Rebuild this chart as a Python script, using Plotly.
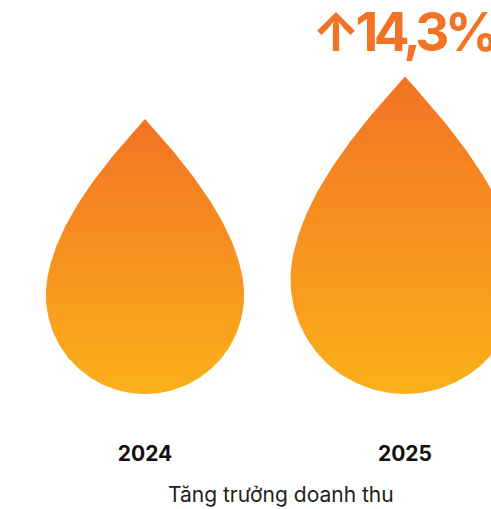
import numpy as np
import plotly.graph_objects as go

# ---- data ----
years = ["2024", "2025"]
revenue = [100, 115.5]          # relative size of each drop
growth_label = "↑14,3%"
axis_title = "Tăng trưởng doanh thu"

# ---- style / scale constants ----
W, H = 491, 509
PLOT_BOTTOM = 439               # px of plot-area bottom
BASE_PX = 394                   # px where drops rest
PX_PER_Y = 2.75
PX_PER_X = 260.0
X0_PX = 145.0
TOP_C = "#F37324"
BOT_C = "#FBB01A"

D_TIP = 1.774                   # tip distance from circle centre (in radii)
PHI = np.radians(10)
BETA = np.radians(42)


def drop_unit():
    """Drop outline in units of circle radius, circle centre at (0,0)."""
    ang = np.linspace(np.pi - PHI, 2 * np.pi + PHI, 120)
    cu, cv = np.cos(ang), np.sin(ang)
    p0 = np.array([np.cos(PHI), np.sin(PHI)])
    p1 = p0 + 0.6 * np.array([-np.sin(PHI), np.cos(PHI)])
    p3 = np.array([0.0, D_TIP])
    p2 = p3 + 0.6 * np.array([np.sin(BETA), -np.cos(BETA)])
    t = np.linspace(0, 1, 60)[:, None]
    b = (1 - t) ** 3 * p0 + 3 * (1 - t) ** 2 * t * p1 + 3 * (1 - t) * t ** 2 * p2 + t ** 3 * p3
    ru, rv = b[:, 0], b[:, 1]
    lu, lv = -ru[::-1], rv[::-1]
    u = np.concatenate([cu, ru, lu])
    v = np.concatenate([cv, rv, lv])
    return u, v


u, v = drop_unit()
fig = go.Figure()
for i, (yr, val) in enumerate(zip(years, revenue)):
    r_y = val / (1 + D_TIP)                 # radius in y units
    r_x = r_y * PX_PER_Y / PX_PER_X         # radius in x units
    xs = i + u * r_x
    ys = (v + 1) * r_y
    fig.add_trace(go.Scatter(
        x=xs, y=ys, mode="lines", fill="toself",
        line=dict(width=0, color=TOP_C),
        fillgradient=dict(type="vertical", colorscale=[[0, BOT_C], [1, TOP_C]]),
        name=yr, hoverinfo="skip", showlegend=False,
    ))

x_lo = -X0_PX / PX_PER_X
x_hi = (W - X0_PX) / PX_PER_X
y_lo = -(PLOT_BOTTOM - BASE_PX) / PX_PER_Y
y_hi = BASE_PX / PX_PER_Y

fig.add_annotation(
    text='<span style="letter-spacing:-4.5px">' + growth_label + '</span>',
    xref="paper", yref="paper",
    x=310 / W, y=1 - 32 / PLOT_BOTTOM, xanchor="left", yanchor="middle",
    showarrow=False,
    font=dict(family="Inter", size=53, color="#F37325", weight=700),
)

fig.add_annotation(
    text=axis_title, xref="paper", yref="paper",
    x=281 / W, y=-(494 - PLOT_BOTTOM) / PLOT_BOTTOM,
    xanchor="center", yanchor="middle", showarrow=False,
    font=dict(family="Inter", size=21, color="#222"),
)

fig.update_layout(
    width=W, height=H,
    margin=dict(l=0, r=0, t=0, b=H - PLOT_BOTTOM),
    paper_bgcolor="white", plot_bgcolor="white",
    font=dict(family="Inter", color="#1a1a1a"),
    xaxis=dict(
        range=[x_lo, x_hi], tickmode="array", tickvals=[0, 1], ticktext=years,
        tickfont=dict(size=21, weight=700, color="#111"),
        showgrid=False, zeroline=False, showline=False, ticks="",
        fixedrange=True,
    ),
    yaxis=dict(range=[y_lo, y_hi], visible=False, showgrid=False, fixedrange=True),
)

fig.write_html("out.html")
